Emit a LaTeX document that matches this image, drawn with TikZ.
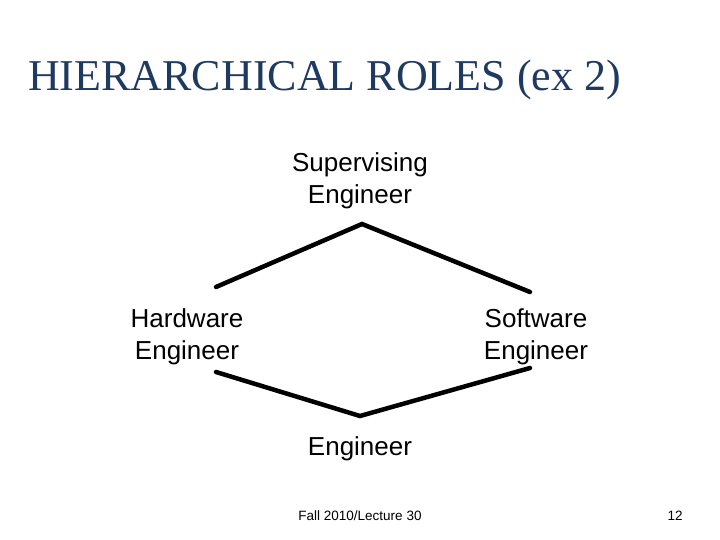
\documentclass[tikz,border=0pt]{standalone}
\usepackage{fontspec}
\setmainfont{Liberation Serif}
\setsansfont{Liberation Sans}
\definecolor{titleblue}{HTML}{1F3A60}
\begin{document}
\begin{tikzpicture}[x=1pt,y=-1pt,
  lbl/.style={font=\sffamily\fontsize{26}{32}\selectfont,align=center,inner sep=0pt},
  link/.style={line width=4.5pt,line cap=round}]
\useasboundingbox (0,0) rectangle (720,540);
\node[anchor=west,text=titleblue,font=\fontsize{44}{48}\selectfont,inner sep=0pt] (title) at (28,80) {HIERARCHICAL ROLES (ex 2)};
\node[lbl] (sup) at (360,181) {Supervising\\Engineer};
\node[lbl] (hw) at (187,337) {Hardware\\Engineer};
\node[lbl] (sw) at (536,337) {Software\\Engineer};
\node[lbl] (eng) at (360,449) {Engineer};
\node[font=\sffamily\fontsize{13.5}{15}\selectfont,inner sep=0pt] (foot) at (360,516) {Fall 2010/Lecture 30};
\node[font=\sffamily\fontsize{13.5}{15}\selectfont,inner sep=0pt] (num) at (675,516) {12};
\coordinate (a) at (362,224);
\coordinate (b) at (216,287);
\coordinate (c) at (530,292);
\coordinate (d) at (216,372);
\coordinate (e) at (360,416);
\coordinate (f) at (530,368);
\draw[link] (b) -- (a) -- (c);
\draw[link] (d) -- (e) -- (f);
\end{tikzpicture}
\end{document}
